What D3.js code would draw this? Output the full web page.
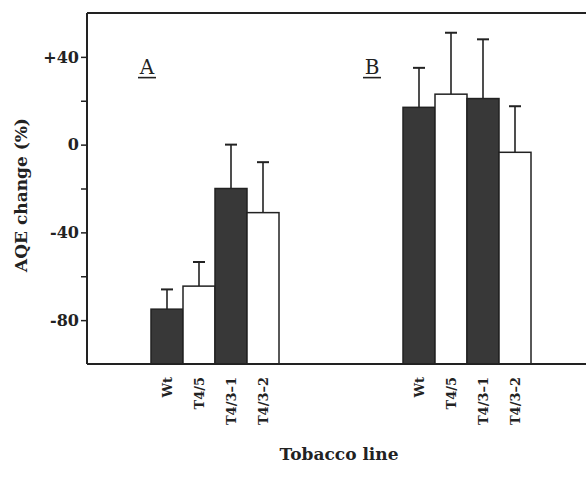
<!DOCTYPE html>
<html>
<head>
<meta charset="utf-8">
<script src="https://cdn.jsdelivr.net/npm/d3@7"></script>
<style>
  html, body { margin: 0; padding: 0; background: #fff; }
  svg text { font-family: "DejaVu Serif", "Liberation Serif", serif; font-weight: bold; fill: #222; }
</style>
</head>
<body>
<svg id="chart" width="586" height="481"></svg>
<script>
// Panels and tobacco lines
const panels = ["A", "B"];
const lines = ["Wt", "T4/5", "T4/3-1", "T4/3-2"];
const dark = [true, false, true, false];

// AQE change (%) and upper error, per panel
const valuesA = [-75, -64.5, -20, -31];
const errorsA = [9, 11, 20, 23];
const valuesB = [17, 23, 21, -3.5];
const errorsB = [18, 28, 27, 21];

const yTicks = [-80, -60, -40, -20, 0, 20, 40];
const yLabelTicks = [-80, -40, 0, 40];

const svg = d3.select("#chart");
const W = 586;
const plotLeft = 87, plotTop = 13, plotBottom = 364;
const serif = '"DejaVu Serif", "Liberation Serif", serif';

const y = d3.scaleLinear().domain([-100, 60]).range([plotBottom, plotTop]);

// group centres and bar slots within a group
const xg = d3.scalePoint().domain(panels).range([215, 467]);
const xb = d3.scaleBand().domain(lines).range([-64, 64]).padding(0);

const data = [];
panels.forEach((p, pi) => {
  const vals = pi === 0 ? valuesA : valuesB;
  const errs = pi === 0 ? errorsA : errorsB;
  lines.forEach((l, i) => data.push({ panel: p, line: l, value: vals[i], err: errs[i], dark: dark[i] }));
});

const ink = "#222";

const g = svg.append("g");
const bx = d => xg(d.panel) + xb(d.line);
const cx = d => bx(d) + xb.bandwidth() / 2;

// Error bars first so bar outline sits on top
g.selectAll("line.err")
  .data(data)
  .join("line")
  .attr("x1", cx)
  .attr("x2", cx)
  .attr("y1", d => y(d.value))
  .attr("y2", d => y(d.value + d.err))
  .attr("stroke", ink)
  .attr("stroke-width", 1.6);

g.selectAll("line.cap")
  .data(data)
  .join("line")
  .attr("x1", d => cx(d) - 6)
  .attr("x2", d => cx(d) + 6)
  .attr("y1", d => y(d.value + d.err))
  .attr("y2", d => y(d.value + d.err))
  .attr("stroke", ink)
  .attr("stroke-width", 2);

// Bars drawn up from the bottom of the axis
g.selectAll("rect")
  .data(data)
  .join("rect")
  .attr("x", d => bx(d))
  .attr("width", xb.bandwidth())
  .attr("y", d => y(d.value))
  .attr("height", d => y(-100) - y(d.value))
  .attr("fill", d => d.dark ? "#383838" : "#fff")
  .attr("stroke", ink)
  .attr("stroke-width", 1.5);

// Frame: top and bottom lines run to the right edge
svg.append("line").attr("x1", plotLeft).attr("x2", W).attr("y1", plotTop).attr("y2", plotTop)
  .attr("stroke", ink).attr("stroke-width", 2);
svg.append("line").attr("x1", plotLeft).attr("x2", W).attr("y1", plotBottom).attr("y2", plotBottom)
  .attr("stroke", ink).attr("stroke-width", 2);

const yAxis = d3.axisLeft(y)
  .tickValues(yTicks)
  .tickSize(6)
  .tickPadding(2)
  .tickFormat(d => yLabelTicks.includes(d) ? (d > 0 ? "+" + d : String(d)) : "");

const ya = svg.append("g")
  .attr("transform", `translate(${plotLeft},0)`)
  .call(yAxis);
ya.select(".domain").attr("stroke", ink).attr("stroke-width", 2)
  .attr("d", `M0,${plotTop}V${plotBottom}`);
ya.selectAll(".tick line").attr("stroke", ink).attr("stroke-width", 1.5);
ya.selectAll(".tick text")
  .attr("font-size", 16)
  .style("font-family", serif)
  .style("font-weight", "bold")
  .attr("fill", ink);

// Category labels under each bar, rotated
svg.append("g").selectAll("text")
  .data(data)
  .join("text")
  .attr("transform", d => `translate(${cx(d) + 5},${plotBottom + 13}) rotate(-90)`)
  .attr("text-anchor", "end")
  .attr("font-size", 13)
  .text(d => d.line.replace("-", "\u2013"));

// Panel letters, underlined
const panelPos = [{ p: "A", dx: -68 }, { p: "B", dx: -95 }];
panelPos.forEach(pp => {
  const px = xg(pp.p) + pp.dx;
  svg.append("text")
    .attr("x", px).attr("y", y(32))
    .attr("text-anchor", "middle")
    .attr("font-size", 20)
    .style("font-weight", "normal")
    .text(pp.p);
  svg.append("line")
    .attr("x1", px - 9).attr("x2", px + 9)
    .attr("y1", y(31) + 1).attr("y2", y(31) + 1)
    .attr("stroke", ink).attr("stroke-width", 1.6);
});

// Axis titles
svg.append("text")
  .attr("transform", "translate(27,195) rotate(-90)")
  .attr("text-anchor", "middle")
  .attr("font-size", 17)
  .text("AQE change (%)");

svg.append("text")
  .attr("x", 339).attr("y", 460)
  .attr("text-anchor", "middle")
  .attr("font-size", 17)
  .text("Tobacco line");
</script>
</body>
</html>
